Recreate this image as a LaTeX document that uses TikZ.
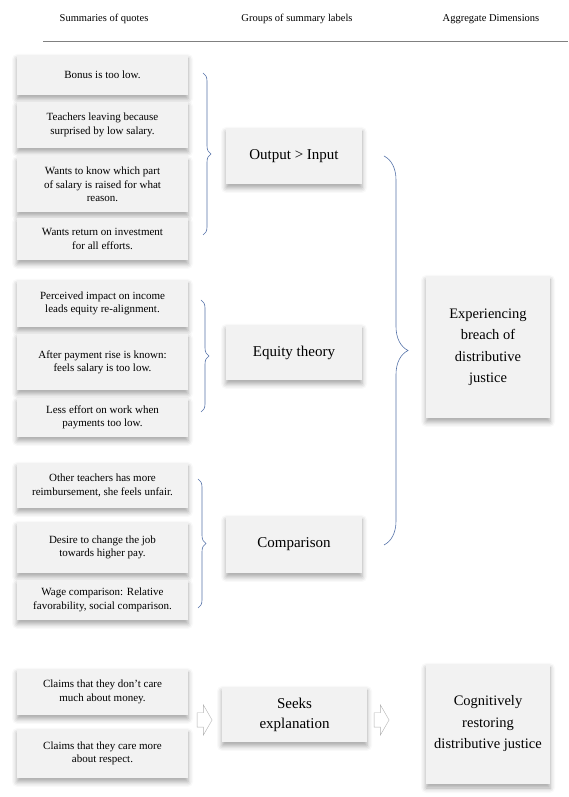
\documentclass[tikz,border=0pt]{standalone}
\usepackage{fontspec}
\setmainfont{Liberation Serif}
\usetikzlibrary{decorations.pathreplacing,shapes.arrows,shadows.blur}
\definecolor{boxfill}{RGB}{242,242,242}
\definecolor{bracecol}{RGB}{84,114,168}

\begin{document}
\begin{tikzpicture}[x=1pt,
y=1pt,
every node/.style={
rectangle,
align = center,
anchor=south west,
outer sep=0pt,
inner sep=2pt,
},
box/.style={
fill=boxfill,
blur shadow={shadow xshift=0pt,shadow yshift=-4pt,shadow blur radius=5pt,shadow opacity=35},
},
quote/.style={box,minimum width=171pt,font=\fontsize{11}{13.3}\selectfont},
group/.style={box,minimum width=136pt,font=\fontsize{15}{20}\selectfont},
dimension/.style={box,minimum width=124pt,font=\fontsize{14.5}{21.5}\selectfont},
heading/.style={anchor=base,font=\fontsize{10.5}{12}\selectfont},
brace/.style={draw=bracecol,line width=0.6pt,decorate,decoration={brace,amplitude=8pt}},
hollow/.style={single arrow,draw=gray!60,fill=white,anchor=center,minimum height=15pt,inner xsep=0pt,inner ysep=7pt,single arrow head extend=8pt,single arrow tip angle=120},
]
\useasboundingbox (0,0) rectangle (568,797);

%Headings
\node[heading] (h1) at (104,775) {Summaries of quotes};
\node[heading] (h2) at (297,775) {Groups of summary labels};
\node[heading] (h3) at (491,775) {Aggregate Dimensions};
\coordinate (rulel) at (43,756);
\coordinate (ruler) at (568,756);
\draw[gray,line width=0.6pt] (rulel) -- (ruler);

%Summaries of quotes
\node[quote,minimum height=40pt] (q1) at (17,702) {Bonus is too low.};
\node[quote,minimum height=46pt] (q2) at (17,649) {Teachers leaving because\\surprised by low salary.};
\node[quote,minimum height=55pt] (q3) at (17,585) {Wants to know which part\\of salary is raised for what\\reason.};
\node[quote,minimum height=42pt] (q4) at (17,537) {Wants return on investment\\for all efforts.};
\node[quote,minimum height=47pt] (q5) at (17,470) {Perceived impact on income\\leads equity re-alignment.};
\node[quote,minimum height=56pt] (q6) at (17,407) {After payment rise is known:\\feels salary is too low.};
\node[quote,minimum height=39pt] (q7) at (17,360) {Less effort on work when\\payments too low.};
\node[quote,minimum height=45pt] (q8) at (17,289) {Other teachers has more\\reimbursement, she feels unfair.};
\node[quote,minimum height=51pt] (q9) at (17,224) {Desire to change the job\\towards higher pay.};
\node[quote,minimum height=40pt] (q10) at (17,177) {Wage comparison: Relative\\favorability, social comparison.};
\node[quote,minimum height=46pt] (q11) at (17,82) {Claims that they don’t care\\much about money.};
\node[quote,minimum height=49pt] (q12) at (17,19) {Claims that they care more\\about respect.};

%Groups of summary labels
\node[group,minimum height=56pt] (g1) at (226,613) {Output > Input};
\node[group,minimum height=55pt] (g2) at (226,417) {Equity theory};
\node[group,minimum height=57pt] (g3) at (226,224) {Comparison};
\node[group,minimum width=145pt,minimum height=55pt] (g4) at (222,55) {Seeks\\explanation};

%Aggregate dimensions
\node[dimension,minimum height=142pt] (d1) at (426,379) {Experiencing\\breach of\\distributive\\justice};
\node[dimension,minimum height=120pt] (d2) at (426,13) {Cognitively\\restoring\\distributive justice};

%Braces
\coordinate (b1top) at (203,724);
\coordinate (b1bot) at (203,562);
\coordinate (b2top) at (201,497);
\coordinate (b2bot) at (201,385);
\coordinate (b3top) at (198,318);
\coordinate (b3bot) at (198,189);
\coordinate (b4top) at (384,641);
\coordinate (b4bot) at (384,252);
\draw[brace] (b1top) -- (b1bot);
\draw[brace] (b2top) -- (b2bot);
\draw[brace] (b3top) -- (b3bot);
\draw[brace,decoration={amplitude=24pt}] (b4top) -- (b4bot);

%Hollow arrows
\node[hollow] (a1) at (202.5,77) {};
\node[hollow] (a2) at (379.5,77) {};
\end{tikzpicture}
\end{document}
